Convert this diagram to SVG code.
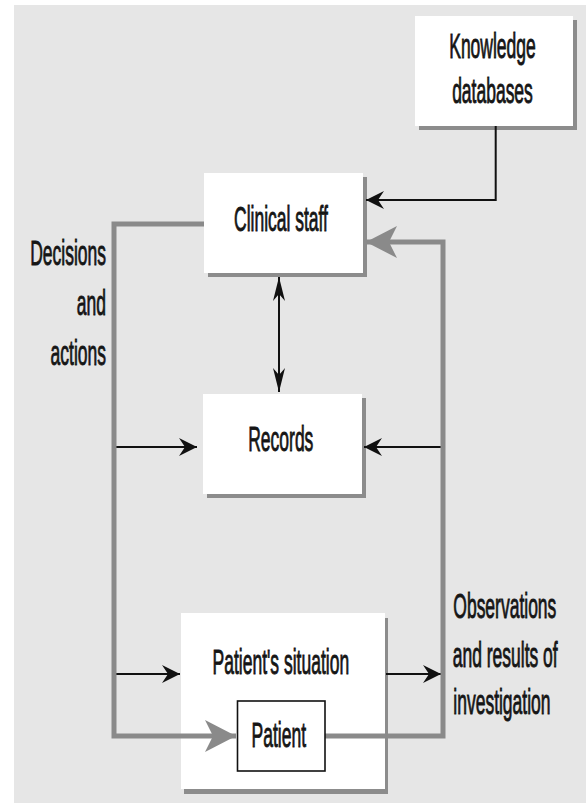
<svg xmlns="http://www.w3.org/2000/svg" width="586" height="803" viewBox="0 0 586 803">
  <defs>
    <style>
      .panel { fill: #e6e6e6; }
      .box { fill: #ffffff; }
      .shadow { fill: #8c8c8c; }
      .inner { fill: #ffffff; stroke: #111111; stroke-width: 1.6; }
      /* condensed lettering: Arial-width face squeezed to half width */
      .lbl { font-family: "Liberation Sans", Arial, sans-serif; font-size: 35px; fill: #151515; stroke: #151515; stroke-width: 0.9; }
      .mid { text-anchor: middle; }
      .end { text-anchor: end; }
      .wire { fill: none; stroke: #111111; stroke-width: 2; }
      .flow { fill: none; stroke: #8a8a8a; stroke-width: 5; }
    </style>
    <!-- barbed black arrowhead for thin connectors -->
    <marker id="tip" markerUnits="userSpaceOnUse" viewBox="-19 -10 20 20" refX="0" refY="0" markerWidth="20" markerHeight="20" orient="auto-start-reverse">
      <path d="M0,0 L-18,-9 L-12,0 L-18,9 Z" fill="#111111"/>
    </marker>
    <!-- slender black arrowhead for the vertical link -->
    <marker id="tipLong" markerUnits="userSpaceOnUse" viewBox="-25 -7 26 14" refX="0" refY="0" markerWidth="26" markerHeight="14" orient="auto-start-reverse">
      <path d="M0,0 L-24,-6 L-17,0 L-24,6 Z" fill="#111111"/>
    </marker>
    <!-- large grey arrowhead for the main care loop -->
    <marker id="tipGrey" markerUnits="userSpaceOnUse" viewBox="-33 -18 34 36" refX="0" refY="0" markerWidth="34" markerHeight="36" orient="auto">
      <path d="M0,0 L-31,-16 L-23,0 L-31,16 Z" fill="#8a8a8a"/>
    </marker>
  </defs>

  <!-- backdrop -->
  <rect x="0" y="0" width="586" height="803" fill="#ffffff"/>
  <rect class="panel" x="14" y="5" width="572" height="798"/>

  <g id="knowledge-databases">
    <rect class="shadow" x="419" y="20" width="158" height="110"/>
    <rect class="box" x="415" y="16" width="158" height="110"/>
    <text class="lbl mid" transform="scale(0.5 1)" x="985" y="58.3">Knowledge</text>
    <text class="lbl mid" transform="scale(0.5 1)" x="985" y="103.3">databases</text>
  </g>

  <g id="clinical-staff">
    <rect class="shadow" x="208" y="177" width="159" height="100"/>
    <rect class="box" x="204" y="173" width="159" height="100"/>
    <text class="lbl mid" transform="scale(0.5 1)" x="562" y="230.7">Clinical staff</text>
  </g>

  <g id="records">
    <rect class="shadow" x="207" y="398" width="159" height="100"/>
    <rect class="box" x="203" y="394" width="159" height="100"/>
    <text class="lbl mid" transform="scale(0.5 1)" x="561.6" y="451.5">Records</text>
  </g>

  <g id="patients-situation">
    <rect class="shadow" x="184" y="618" width="204" height="176"/>
    <rect class="box" x="181" y="613" width="204" height="176"/>
    <text class="lbl mid" transform="scale(0.5 1)" x="561.7" y="674">Patient's situation</text>
  </g>

  <g id="connectors">
    <!-- knowledge feeds clinical staff -->
    <path class="wire" d="M495.7,126 V200 H366" marker-end="url(#tip)"/>
    <!-- clinical staff exchanges with records -->
    <path class="wire" d="M279,277 V392" marker-start="url(#tipLong)" marker-end="url(#tipLong)"/>
    <!-- decisions and observations are recorded -->
    <path class="wire" d="M114,447 H197" marker-end="url(#tip)"/>
    <path class="wire" d="M443,447 H364" marker-end="url(#tip)"/>
    <!-- actions on the situation, observations out of it -->
    <path class="wire" d="M114,674 H180" marker-end="url(#tip)"/>
    <path class="wire" d="M386,674 H441" marker-end="url(#tip)"/>
    <!-- main care loop -->
    <path class="flow" d="M204,224 H114 V736 H236" marker-end="url(#tipGrey)"/>
    <path class="flow" d="M325,736 H443 V242 H366" marker-end="url(#tipGrey)"/>
  </g>

  <g id="patient">
    <rect class="inner" x="237.5" y="701" width="87.5" height="70"/>
    <text class="lbl mid" transform="scale(0.5 1)" x="557.7" y="746.7">Patient</text>
  </g>

  <g id="decisions-label">
    <text class="lbl end" transform="scale(0.5 1)" x="212" y="265">Decisions</text>
    <text class="lbl end" transform="scale(0.5 1)" x="212" y="315">and</text>
    <text class="lbl end" transform="scale(0.5 1)" x="212" y="365">actions</text>
  </g>

  <g id="observations-label">
    <text class="lbl" transform="scale(0.5 1)" x="906.6" y="618">Observations</text>
    <text class="lbl" transform="scale(0.5 1)" x="905.4" y="667">and results of</text>
    <text class="lbl" transform="scale(0.5 1)" x="906.6" y="714">investigation</text>
  </g>
</svg>
